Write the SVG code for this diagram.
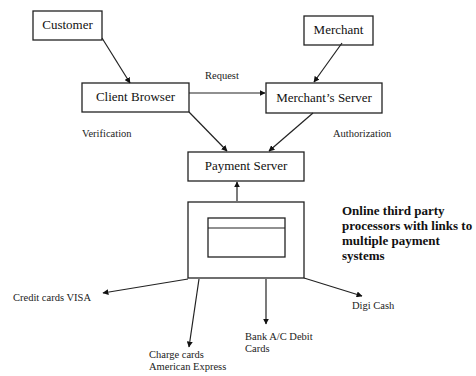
<svg xmlns="http://www.w3.org/2000/svg" width="476" height="376" viewBox="0 0 476 376">
<style>
.box{fill:#fff;stroke:#222;stroke-width:1.3}
.lbl{font-family:"Liberation Serif",serif;font-size:13px;fill:#111}
.sm{font-family:"Liberation Serif",serif;font-size:10.5px;fill:#222}
.bold{font-family:"Liberation Serif",serif;font-size:13px;font-weight:bold;fill:#111}
.c{stroke:#222;stroke-width:1.2;fill:none;marker-end:url(#ah)}
</style>
<defs>
<marker id="ah" viewBox="0 0 10 10" refX="9" refY="5" markerWidth="6" markerHeight="6" orient="auto" markerUnits="userSpaceOnUse">
<path d="M0,0 L10,5 L0,10 z" fill="#111"/>
</marker>
</defs>
<rect width="476" height="376" fill="#fff"/>
<g id="customer"><rect class="box" x="33" y="11" width="69" height="29"/><text class="lbl" x="67.5" y="29" text-anchor="middle">Customer</text></g>
<g id="merchant"><rect class="box" x="304" y="16" width="69" height="29"/><text class="lbl" x="338.5" y="34" text-anchor="middle">Merchant</text></g>
<g id="client-browser"><rect class="box" x="82" y="83" width="107" height="29"/><text class="lbl" x="135.5" y="101" text-anchor="middle">Client Browser</text></g>
<g id="merchants-server"><rect class="box" x="266" y="83" width="116" height="30"/><text class="lbl" x="324" y="102" text-anchor="middle">Merchant’s Server</text></g>
<g id="payment-server"><rect class="box" x="188" y="152" width="116" height="29"/><text class="lbl" x="246" y="170" text-anchor="middle">Payment Server</text></g>
<g id="processor"><rect class="box" x="188" y="202" width="116" height="76"/><rect class="box" x="208" y="218" width="77" height="39"/><line x1="208" y1="228" x2="285" y2="228" stroke="#222" stroke-width="1.2"/></g>
<g id="labels">
<text class="sm" x="205" y="79">Request</text>
<text class="sm" x="82" y="137">Verification</text>
<text class="sm" x="333" y="137">Authorization</text>
<text class="bold" x="342" y="215">Online third party</text>
<text class="bold" x="342" y="230">processors with links to</text>
<text class="bold" x="342" y="245">multiple payment</text>
<text class="bold" x="342" y="260">systems</text>
<text class="sm" x="13" y="301">Credit cards VISA</text>
<text class="sm" x="149" y="358">Charge cards</text>
<text class="sm" x="149" y="370">American Express</text>
<text class="sm" x="245" y="340">Bank A/C Debit</text>
<text class="sm" x="245" y="352">Cards</text>
<text class="sm" x="352" y="309">Digi Cash</text>
</g>
<g id="connectors">
<line class="c" x1="102" y1="38" x2="130" y2="83"/>
<line class="c" x1="342" y1="43" x2="314" y2="82"/>
<line class="c" x1="189" y1="93" x2="265" y2="93"/>
<line class="c" x1="189" y1="112" x2="227" y2="151"/>
<line class="c" x1="313" y1="113" x2="269" y2="151"/>
<line class="c" x1="237" y1="201" x2="237" y2="182"/>
<line class="c" x1="188" y1="279" x2="103" y2="293"/>
<line class="c" x1="199" y1="279" x2="189" y2="347"/>
<line class="c" x1="266" y1="279" x2="266" y2="324"/>
<line class="c" x1="304" y1="278" x2="362" y2="296"/>
</g>
</svg>
